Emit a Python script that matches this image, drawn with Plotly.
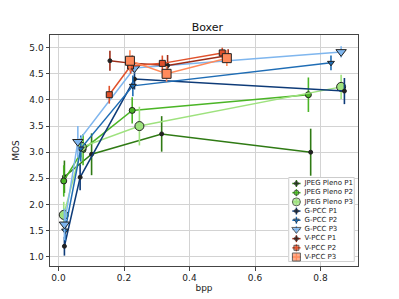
import plotly.graph_objects as go

# ---- data ----
names = ["JPEG Pleno P1", "JPEG Pleno P2", "JPEG Pleno P3",
         "G-PCC P1", "G-PCC P2", "G-PCC P3",
         "V-PCC P1", "V-PCC P2", "V-PCC P3"]

jpeg_p1_x = [0.018, 0.101, 0.315, 0.770]
jpeg_p1_y = [2.53, 2.96, 3.35, 3.00]
jpeg_p1_e = [0.31, 0.40, 0.34, 0.45]

jpeg_p2_x = [0.016, 0.075, 0.225, 0.763]
jpeg_p2_y = [2.45, 3.05, 3.80, 4.10]
jpeg_p2_e = [0.30, 0.30, 0.25, 0.33]

jpeg_p3_x = [0.016, 0.071, 0.247, 0.863]
jpeg_p3_y = [1.80, 3.10, 3.50, 4.25]
jpeg_p3_e = [0.25, 0.20, 0.37, 0.23]

gpcc_p1_x = [0.018, 0.066, 0.232, 0.873]
gpcc_p1_y = [1.20, 2.52, 4.40, 4.17]
gpcc_p1_e = [0.18, 0.25, 0.20, 0.25]

gpcc_p2_x = [0.020, 0.068, 0.227, 0.832]
gpcc_p2_y = [1.50, 3.07, 4.27, 4.71]
gpcc_p2_e = [0.20, 0.25, 0.20, 0.14]

gpcc_p3_x = [0.018, 0.059, 0.232, 0.863]
gpcc_p3_y = [1.62, 3.20, 4.61, 4.92]
gpcc_p3_e = [0.30, 0.30, 0.10, 0.11]

vpcc_p1_x = [0.157, 0.225, 0.333, 0.518]
vpcc_p1_y = [4.75, 4.70, 4.66, 4.85]
vpcc_p1_e = [0.19, 0.15, 0.20, 0.12]

vpcc_p2_x = [0.155, 0.220, 0.317, 0.500]
vpcc_p2_y = [4.10, 4.65, 4.70, 4.90]
vpcc_p2_e = [0.17, 0.15, 0.15, 0.10]

vpcc_p3_x = [0.218, 0.330, 0.514]
vpcc_p3_y = [4.75, 4.50, 4.80]
vpcc_p3_e = [0.20, 0.15, 0.15]

x_ticks = [0.0, 0.2, 0.4, 0.6, 0.8]
y_ticks = [1.0, 1.5, 2.0, 2.5, 3.0, 3.5, 4.0, 4.5, 5.0]

xs = [jpeg_p1_x, jpeg_p2_x, jpeg_p3_x, gpcc_p1_x, gpcc_p2_x, gpcc_p3_x, vpcc_p1_x, vpcc_p2_x, vpcc_p3_x]
ys = [jpeg_p1_y, jpeg_p2_y, jpeg_p3_y, gpcc_p1_y, gpcc_p2_y, gpcc_p3_y, vpcc_p1_y, vpcc_p2_y, vpcc_p3_y]
es = [jpeg_p1_e, jpeg_p2_e, jpeg_p3_e, gpcc_p1_e, gpcc_p2_e, gpcc_p3_e, vpcc_p1_e, vpcc_p2_e, vpcc_p3_e]

# ---- styles ----
colors = ["#2f7a14", "#4bb526", "#9ee27e",
          "#0e3b78", "#1f6db5", "#7fb6ee",
          "#9b2c17", "#e0512b", "#ff8a5b"]
symbols = ["circle", "circle", "circle",
           "circle", "triangle-down", "triangle-down",
           "circle", "square", "square"]
sizes = [4, 6, 9, 4, 6, 9, 4, 6, 9]

fig = go.Figure()
for i in range(len(names)):
    fig.add_trace(go.Scatter(
        x=xs[i], y=ys[i], mode="lines+markers", name=names[i],
        line=dict(color=colors[i], width=1.5),
        marker=dict(symbol=symbols[i], size=sizes[i], color=colors[i] if sizes[i] > 4 else "#222",
                    line=dict(color="#222", width=1)),
        error_y=dict(type="data", array=es[i], color=colors[i], thickness=1.6, width=0),
        showlegend=False))

# ---- custom compact legend on an overlay axis ----
n = len(names)
fig.add_trace(go.Scatter(
    x=[0, 1, 1, 0, 0], y=[-0.65, -0.65, n - 0.5, n - 0.5, -0.65],
    mode="lines", fill="toself", fillcolor="rgba(255,255,255,0.85)",
    line=dict(color="#cccccc", width=1), xaxis="x2", yaxis="y2",
    showlegend=False, hoverinfo="skip"))
for i in range(n):
    fig.add_trace(go.Scatter(
        x=[0.055, 0.117, 0.18], y=[i, i, i], mode="lines+markers",
        line=dict(color=colors[i], width=1.5),
        marker=dict(symbol=symbols[i], size=[0, max(sizes[i] - 1, 4), 0],
                    color=colors[i] if sizes[i] > 4 else "#222",
                    line=dict(color="#222", width=1)),
        error_y=dict(type="data", array=[0, 0.38, 0], color=colors[i], thickness=1.4, width=0),
        xaxis="x2", yaxis="y2", showlegend=False, hoverinfo="skip"))
fig.add_trace(go.Scatter(
    x=[0.24] * n, y=list(range(n)), mode="text", text=names,
    textposition="middle right", textfont=dict(size=7, color="#222", family="DejaVu Sans"),
    xaxis="x2", yaxis="y2", showlegend=False, hoverinfo="skip"))

# page has an 8px body margin; compensate so the plot lands where the reference has it
fig.update_layout(
    width=391, height=291,
    margin=dict(l=42, r=41, t=27, b=33),
    paper_bgcolor="white", plot_bgcolor="white",
    font=dict(family="DejaVu Sans", size=9, color="#222"),
    title=dict(text="Boxer", x=0.511, xanchor="center", y=0.935, yanchor="middle",
               xref="paper", yref="container", font=dict(size=11, color="#111")),
    xaxis=dict(range=[-0.026, 0.9145], tickvals=x_ticks, tickformat=".1f", automargin=False,
               showgrid=True, gridcolor="#d3d3d3", gridwidth=1, zeroline=False,
               showline=True, linecolor="#444", linewidth=1, mirror=True,
               ticks="outside", ticklen=3.5, tickcolor="#444",
               title=dict(text="bpp", standoff=0, font=dict(size=9))),
    yaxis=dict(range=[0.822, 5.243], tickvals=y_ticks, tickformat=".1f", automargin=False,
               showgrid=True, gridcolor="#d3d3d3", gridwidth=1, zeroline=False,
               showline=True, linecolor="#444", linewidth=1, mirror=True,
               ticks="outside", ticklen=3.5, tickcolor="#444",
               title=dict(text="MOS", standoff=8, font=dict(size=9))),
    xaxis2=dict(domain=[0.773, 0.990], range=[-0.01, 1.01], visible=False, fixedrange=True,
                anchor="y2", automargin=False),
    yaxis2=dict(domain=[0.017, 0.385], range=[n - 0.45, -0.7], visible=False, fixedrange=True,
                anchor="x2", automargin=False),
    showlegend=False,
)

fig.write_html("out.html")
